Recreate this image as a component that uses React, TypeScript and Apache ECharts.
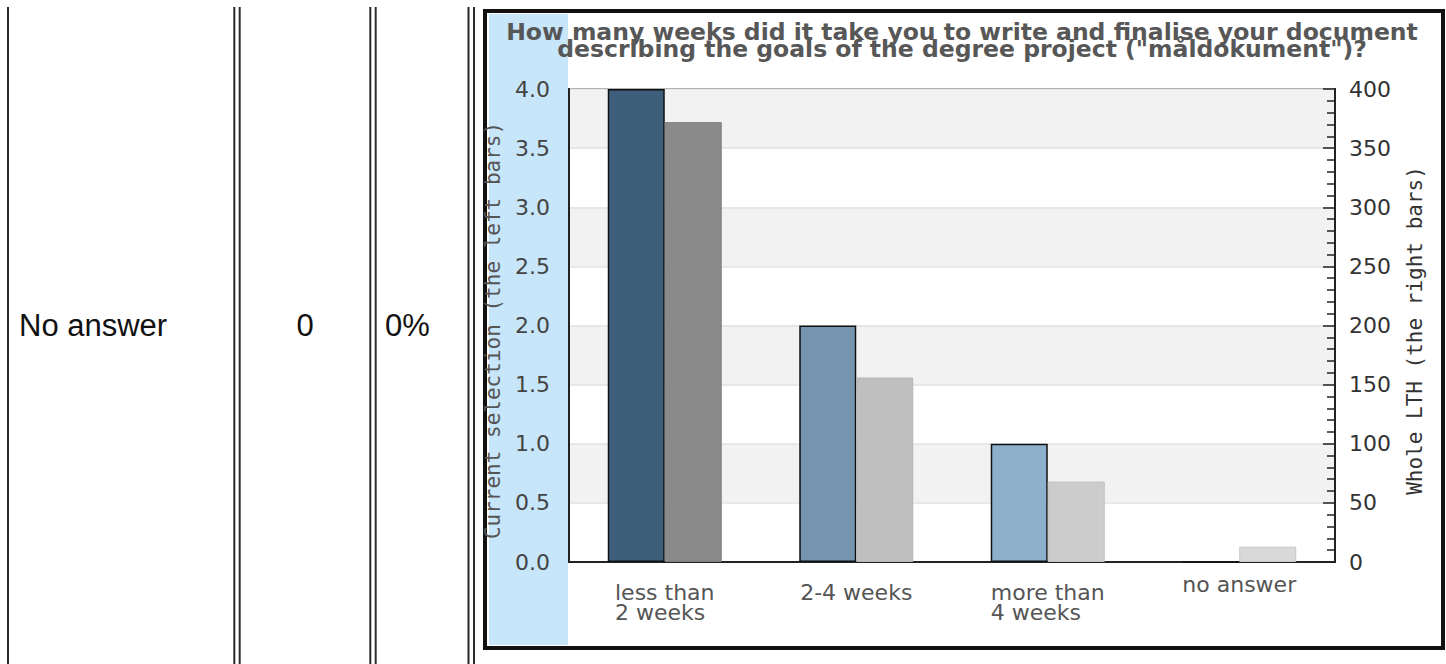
import React, { useEffect, useRef } from 'react';
import * as echarts from 'echarts';

// ---- data ----
const categories = ['less than\n2 weeks', '2-4 weeks', 'more than\n4 weeks', 'no answer'];
const currentSelection = [4, 2, 1, 0];
const wholeLTH = [372, 156, 68, 13];
const titleLines = [
  'How many weeks did it take you to write and finalise your document',
  'describing the goals of the degree project ("måldokument")?',
];
const leftAxisName = 'Current selection (the left bars)';
const rightAxisName = 'Whole LTH (the right bars)';
const leftAxisRange = [0, 4];
const leftAxisStep = 0.5;
const rightAxisRange = [0, 400];
const rightAxisStep = 50;
const tableRow = ['No answer', '0', '0%'];

// ---- styles ----
const selColors = ['#3e5f7b', '#7494b0', '#8fb0cc', '#a9c4da'];
const lthColors = ['#8a8a8a', '#bfbfbf', '#cccccc', '#d9d9d9'];
const lthBorders = ['#808080', '#b5b5b5', '#c2c2c2', '#c6c6c6'];

export default function App() {
  const ref = useRef<HTMLDivElement>(null);

  useEffect(() => {
    if (!ref.current) return;
    const chart = echarts.init(ref.current, null, { renderer: 'svg' });

    const tableLineXs = [8, 234.3, 239.7, 370.3, 375.7, 468.5, 474];
    const tableLines = tableLineXs.map((x) => ({
      type: 'line',
      z: -5,
      shape: { x1: x, y1: 7, x2: x, y2: 664 },
      style: { stroke: '#2a2a2a', lineWidth: 2 },
    }));

    const textStyle = (text: string, align: string) => ({
      text,
      fontFamily: '"Liberation Sans", Arial, sans-serif',
      fontSize: 31,
      fill: '#111',
      textAlign: align,
      align,
      textVerticalAlign: 'middle',
      verticalAlign: 'middle',
    });

    const option: any = {
      animation: false,
      backgroundColor: '#ffffff',
      title: {
        text: titleLines.join('\n'),
        left: 962,
        top: 24,
        textAlign: 'center',
        padding: 0,
        textStyle: {
          fontFamily: '"DejaVu Sans"',
          fontWeight: 'bold',
          fontSize: 23.5,
          lineHeight: 16.5,
          color: '#575757',
        },
      },
      grid: {
        left: 569,
        top: 89,
        width: 766,
        height: 473,
        show: true,
        borderColor: '#222',
        borderWidth: 2,
        backgroundColor: 'transparent',
      },
      xAxis: {
        type: 'category',
        data: categories,
        axisLine: { show: true, lineStyle: { color: '#222', width: 2 } },
        axisTick: { show: false },
        splitLine: { show: false },
        axisLabel: {
          interval: 0,
          margin: 20,
          fontFamily: '"DejaVu Sans"',
          fontSize: 22,
          color: '#555',
          lineHeight: 20,
          formatter: (v: string) =>
            v === 'no answer'
              ? `{up|${v}}`
              : v
                  .split('\n')
                  .map((s) => `{l|${s}}`)
                  .join('\n'),
          rich: {
            l: {
              align: 'left',
              fontFamily: '"DejaVu Sans"',
              fontSize: 22,
              lineHeight: 20,
              color: '#555',
            },
            up: {
              fontFamily: '"DejaVu Sans"',
              fontSize: 22,
              lineHeight: 4,
              color: '#555',
            },
          },
        },
      },
      yAxis: [
        {
          type: 'value',
          position: 'left',
          min: leftAxisRange[0],
          max: leftAxisRange[1],
          interval: leftAxisStep,
          name: leftAxisName,
          nameLocation: 'middle',
          nameGap: 55,
          nameTextStyle: {
            fontFamily: '"DejaVu Sans Mono"',
            fontSize: 21,
            lineHeight: 22,
            color: '#555',
            padding: [0, 10, 0, 0],
          },
          axisLine: { show: true, lineStyle: { color: '#222', width: 2 } },
          axisTick: { show: false },
          axisLabel: {
            margin: 19,
            fontFamily: '"DejaVu Sans"',
            fontSize: 22,
            color: '#444',
            formatter: (v: number) => v.toFixed(1),
          },
          splitLine: { show: true, lineStyle: { color: '#e2e2e2', width: 1.5 } },
          splitArea: { show: true, areaStyle: { color: ['#ffffff', '#f2f2f2'] } },
        },
        {
          type: 'value',
          position: 'right',
          min: rightAxisRange[0],
          max: rightAxisRange[1],
          interval: rightAxisStep,
          name: rightAxisName,
          nameLocation: 'middle',
          nameGap: 69,
          nameTextStyle: {
            fontFamily: '"DejaVu Sans Mono"',
            fontSize: 21,
            lineHeight: 22,
            color: '#333',
            padding: [0, 10, 0, 0],
          },
          axisLine: { show: true, lineStyle: { color: '#222', width: 2 } },
          axisTick: { show: true, inside: true, length: 12, lineStyle: { color: '#222', width: 1.5 } },
          minorTick: { show: true, splitNumber: 5, length: 8, lineStyle: { color: '#222', width: 1.5 } },
          axisLabel: {
            margin: 14,
            fontFamily: '"DejaVu Sans"',
            fontSize: 22,
            color: '#333',
          },
          splitLine: { show: false },
        },
      ],
      series: [
        {
          type: 'bar',
          name: 'Current selection',
          yAxisIndex: 0,
          barWidth: 57,
          barGap: '0%',
          itemStyle: { borderColor: '#111', borderWidth: 1.5 },
          data: currentSelection.map((v, i) => ({ value: v, itemStyle: { color: selColors[i] } })),
        },
        {
          type: 'bar',
          name: 'Whole LTH',
          yAxisIndex: 1,
          barWidth: 57,
          barGap: '0%',
          itemStyle: { borderWidth: 1 },
          data: wholeLTH.map((v, i) => ({
            value: v,
            itemStyle: { color: lthColors[i], borderColor: lthBorders[i] },
          })),
        },
      ],
      graphic: [
        {
          type: 'rect',
          z: -10,
          shape: { x: 485, y: 11, width: 958, height: 637 },
          style: { fill: '#ffffff', stroke: '#111', lineWidth: 4 },
        },
        {
          type: 'rect',
          z: -9,
          shape: { x: 489, y: 14, width: 79, height: 631 },
          style: { fill: '#c8e6fa' },
        },
        ...tableLines,
        { type: 'text', x: 19, y: 325, style: textStyle(tableRow[0], 'left') },
        { type: 'text', x: 305, y: 325, style: textStyle(tableRow[1], 'center') },
        { type: 'text', x: 385, y: 325, style: textStyle(tableRow[2], 'left') },
      ],
    };

    chart.setOption(option);
    return () => chart.dispose();
  }, []);

  return (
    <div
      ref={ref}
      style={{ position: 'absolute', left: 0, top: 0, width: 1446, height: 664, background: '#fff' }}
    />
  );
}
